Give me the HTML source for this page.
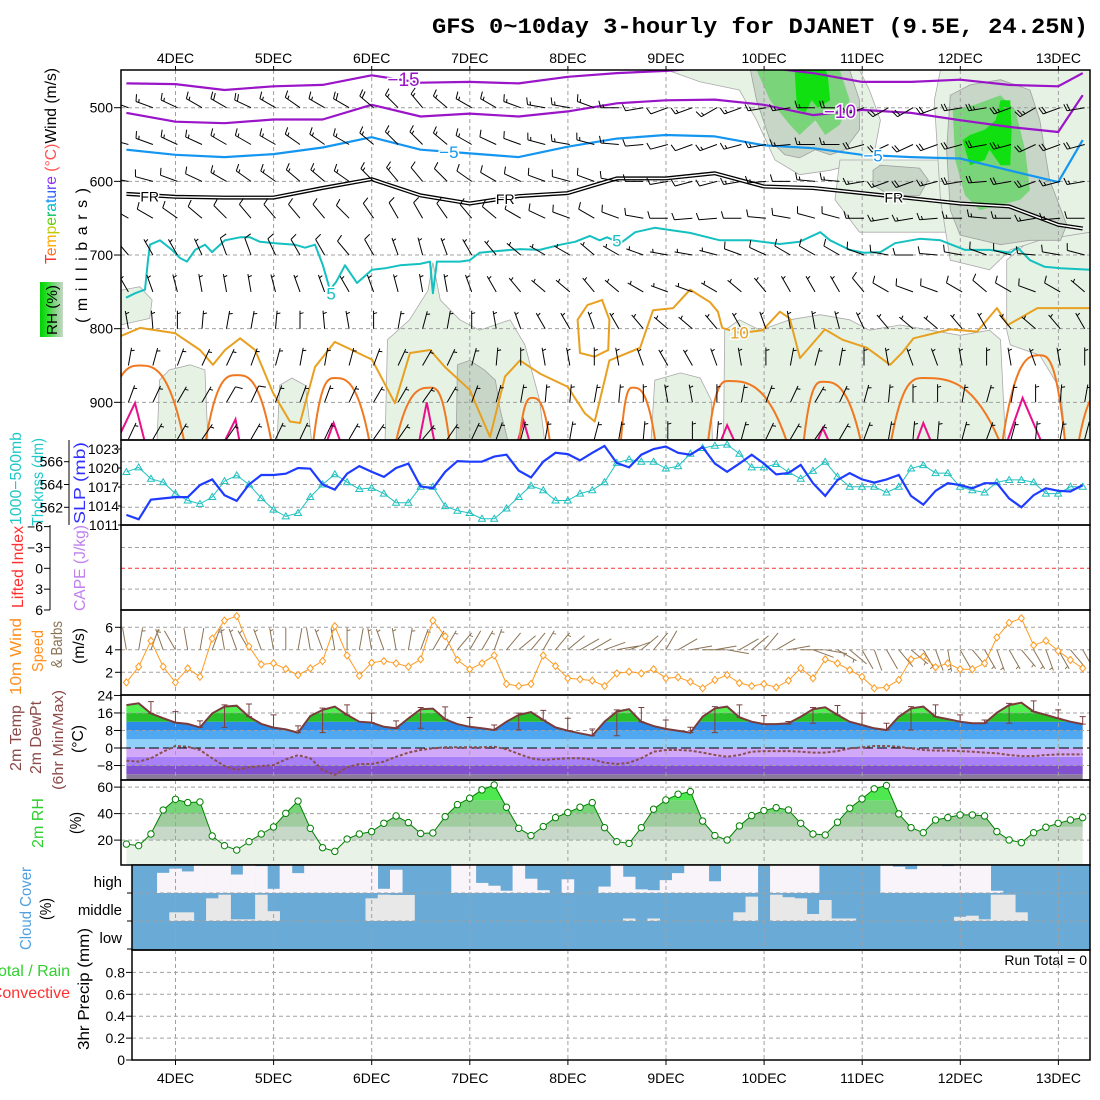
<!DOCTYPE html>
<html><head><meta charset="utf-8"><title>GFS meteogram DJANET</title>
<style>
html,body{margin:0;padding:0;background:#fff}
svg{display:block;font-family:"Liberation Sans",sans-serif}
</style></head>
<body>
<svg id="chart" width="1100" height="1100" viewBox="0 0 1100 1100" xmlns="http://www.w3.org/2000/svg">
<rect x="0" y="0" width="1100" height="1100" fill="#fff"/>
<defs>
<linearGradient id="rhgrad" x1="0" x2="1" y1="0" y2="0"><stop offset="0" stop-color="#00d000"/><stop offset="0.35" stop-color="#30e030"/><stop offset="0.6" stop-color="#78d478"/><stop offset="1" stop-color="#c8d6c8"/></linearGradient>
<clipPath id="clipMain"><rect x="121" y="70" width="969" height="370"/></clipPath>
<clipPath id="clipSlp"><rect x="121" y="440" width="969" height="85"/></clipPath>
<clipPath id="clipWind"><rect x="121" y="610" width="969" height="85"/></clipPath>
</defs>
<text x="432" y="33" font-family="Liberation Mono, monospace" font-weight="bold" font-size="22" textLength="656" lengthAdjust="spacingAndGlyphs">GFS 0~10day 3-hourly for DJANET (9.5E, 24.25N)</text>

<!-- main panel left labels -->
<text transform="translate(56,264) rotate(-90)" font-size="16" textLength="196" lengthAdjust="spacingAndGlyphs"><tspan fill="#ff3030">T</tspan><tspan fill="#ff7020">e</tspan><tspan fill="#ffa800">m</tspan><tspan fill="#c0c800">p</tspan><tspan fill="#60d000">e</tspan><tspan fill="#00c060">r</tspan><tspan fill="#00c0c0">a</tspan><tspan fill="#0090ff">t</tspan><tspan fill="#3060ff">u</tspan><tspan fill="#6040ff">r</tspan><tspan fill="#9030ff">e</tspan><tspan fill="#ff5050"> (°C)</tspan><tspan fill="#000">Wind (m/s)</tspan></text>
<rect x="40" y="282" width="23" height="55" fill="url(#rhgrad)"/>
<text transform="translate(57,335) rotate(-90)" font-size="15" textLength="50" lengthAdjust="spacingAndGlyphs">RH (%)</text>
<text transform="translate(87,323) rotate(-90)" font-size="16" textLength="135" lengthAdjust="spacing">(millibars)</text>

<!-- SLP panel labels -->
<text transform="translate(21,525) rotate(-90)" font-size="16" fill="#20c8c8" textLength="93" lengthAdjust="spacingAndGlyphs">1000−500mb</text>
<text transform="translate(43,526) rotate(-90)" font-size="16" fill="#20c8c8" textLength="88" lengthAdjust="spacingAndGlyphs">Thcknss (dm)</text>
<text transform="translate(85,524) rotate(-90)" font-size="16" fill="#3030ff" textLength="82" lengthAdjust="spacingAndGlyphs">SLP (mb)</text>
<line x1="69" y1="440" x2="69" y2="525" stroke="#000" stroke-width="1"/>

<!-- CAPE panel labels -->
<text transform="translate(23,608) rotate(-90)" font-size="16" fill="#ff3030" textLength="82" lengthAdjust="spacingAndGlyphs">Lifted Index</text>
<text transform="translate(85,611) rotate(-90)" font-size="16" fill="#c080f0" textLength="86" lengthAdjust="spacingAndGlyphs">CAPE (J/kg)</text>
<line x1="50" y1="525" x2="50" y2="610" stroke="#000" stroke-width="1"/>

<!-- wind panel labels -->
<text transform="translate(21,695) rotate(-90)" font-size="16" fill="#ff9020" textLength="77" lengthAdjust="spacingAndGlyphs">10m Wind</text>
<text transform="translate(43,672) rotate(-90)" font-size="16" fill="#ff9020" textLength="42" lengthAdjust="spacingAndGlyphs">Speed</text>
<text transform="translate(62,668) rotate(-90)" font-size="16" fill="#8b7355" textLength="47" lengthAdjust="spacingAndGlyphs">&amp; Barbs</text>
<text transform="translate(84,664) rotate(-90)" font-size="16" textLength="36" lengthAdjust="spacingAndGlyphs">(m/s)</text>

<!-- temp panel labels -->
<text transform="translate(21,771) rotate(-90)" font-size="16" fill="#8b4a4a" textLength="66" lengthAdjust="spacingAndGlyphs">2m Temp</text>
<text transform="translate(41,774) rotate(-90)" font-size="16" fill="#8b4a4a" textLength="73" lengthAdjust="spacingAndGlyphs">2m DewPt</text>
<text transform="translate(63,790) rotate(-90)" font-size="15" fill="#8b4a4a" textLength="100" lengthAdjust="spacingAndGlyphs">(6hr Min/Max)</text>
<text transform="translate(83,753) rotate(-90)" font-size="16" textLength="28" lengthAdjust="spacingAndGlyphs">(°C)</text>

<!-- RH panel labels -->
<text transform="translate(43,848) rotate(-90)" font-size="16" fill="#30d030" textLength="50" lengthAdjust="spacingAndGlyphs">2m RH</text>
<text transform="translate(81,834) rotate(-90)" font-size="16" textLength="22" lengthAdjust="spacingAndGlyphs">(%)</text>

<!-- cloud panel labels -->
<text transform="translate(31,950) rotate(-90)" font-size="16" fill="#50a0e0" textLength="83" lengthAdjust="spacingAndGlyphs">Cloud Cover</text>
<text transform="translate(51,920) rotate(-90)" font-size="16" textLength="22" lengthAdjust="spacingAndGlyphs">(%)</text>
<text x="122" y="887" font-size="15" text-anchor="end">high</text>
<text x="122" y="915" font-size="15" text-anchor="end">middle</text>
<text x="122" y="943" font-size="15" text-anchor="end">low</text>

<!-- precip labels -->
<text x="70" y="976" font-size="16" fill="#30d030" text-anchor="end">Total / Rain</text>
<text x="70" y="998" font-size="16" fill="#ff3030" text-anchor="end">Convective</text>
<text transform="translate(89,1050) rotate(-90)" font-size="16" textLength="122" lengthAdjust="spacingAndGlyphs">3hr Precip (mm)</text>
<text x="1087" y="965" font-size="14" text-anchor="end">Run Total = 0</text>
</svg>

<script>
// ---------- DATA ----------
const dayLabels=['4DEC','5DEC','6DEC','7DEC','8DEC','9DEC','10DEC','11DEC','12DEC','13DEC'];
const pressureTicks=[500,600,700,800,900];
const contourT=[0,4,8,12,16,20,24,28,32,36,40,44,48,52,56,60,64,68,72,76,78];
const isoM15=[467,468,476,471,469,456,466,465,467,458,453,450,445,445,453,465,465,462,469,471,453];
const isoM10=[507,519,521,516,516,496,512,508,512,505,494,490,489,496,510,503,507,517,526,533,483];
const isoM5=[557,564,567,563,554,540,557,562,567,553,542,537,539,551,555,564,567,569,585,601,544];
const isoFR=[617,621,622,622,609,597,619,630,620,616,596,596,589,607,609,616,623,630,634,659,664];
const iso5T=[-0.03,0.7,1.52,1.76,1.92,2.74,3.72,4.37,4.94,5.6,6.41,6.98,8.04,9.27,10.08,10.9,12.12,13.75,14.57,15.38,16.03,16.6,17.09,17.83,18.81,20.03,21.09,22.32,23.95,24.76,25.0,25.33,27.2,28.0,28.8,30.06,32.1,33.7,35.4,36.6,37.8,38.6,39.2,40.3,41.5,43.1,43.9,45.97,48.4,50.9,53.3,54.9,56.6,57.4,59.0,60.2,61.5,62.7,64.7,66.4,68.4,70.4,72.1,72.7,73.7,74.9,76.2,78.6];
const iso5P=[758,752,747,707,686,680,693,704,709,693,686,696,680,676,676,682,684,686,690,686,714,747,737,714,738,720,718,714,712,709,752,709,709,707,697,695,692,693,686,682,674,680,676,684,669,663,665,670,680,680,685,682,669,680,693,697,696,684,678,680,693,693,697,690,707,716,718,720];
const iso10T=[-0.44,1.11,3.96,6.0,7.06,8.04,9.27,10.5,11.96,13.34,14.16,15.38,17.0,20.03,21.9,23.13,24.76,25.98,28.0,29.66,30.88,32.1,33.73,36.0,37.4,38.2,39.4,41.9,42.95,44.6,45.98,47.6,48.25,48.6,50.05,51.9,53.3,54.1,54.94,56.97,58.4,60.4,62.3,63.3,64.2,67.2,69.4,71.0,71.9,74.3,78.6];
const iso10P=[810,799,806,829,849,829,813,829,887,926,928,852,818,842,901,833,829,852,883,947,865,843,861,879,915,926,843,826,775,772,747,764,777,799,806,802,777,786,840,801,815,826,849,832,813,801,804,772,795,772,772];
const iso10LoopT=[37.0,36.8,37.6,38.8,39.4,39.3,38.2];
const iso10LoopP=[833,788,768,761,788,829,838];
const iso15Start=[-2,6.4,15.2,21.9,32.0,40.3,47.4,55.2,62.3,71.4,77.6];
const iso15PeakT=[1.1,9.0,17.0,24.8,33.1,41.3,49.1,56.8,65.0,74.5,80];
const iso15PeakP=[850,863,867,880,894,880,871,872,867,836,880];
const iso15End=[4.8,11.9,19.9,26.4,34.6,43.2,54.0,60.0,71.4,76.6,82];
const iso20Start=[-1,7.8,16.2,23.8,31.8,48.3,56.2,64.3,71.7];
const iso20PeakT=[0.7,8.9,16.9,24.5,32.4,49.0,56.8,65.0,73.1];
const iso20PeakP=[901,923,928,900,925,931,935,928,894];
const iso20End=[1.6,9.3,17.6,25.2,33.0,49.8,57.5,65.8,74.8];
// RH shading regions, vertices as [time index, pressure]
const rhLight=[
 [[-0.5,748],[1.1,743],[2.1,761],[1.9,786],[-0.5,795]],
 [[2.5,951],[2.7,870],[3.5,856],[5.2,849],[6.4,856],[6.65,951]],
 [[12.3,951],[12.5,877],[13.5,867],[14.6,877],[15.1,951]],
 [[21.1,951],[21.3,815],[23.1,788],[24.6,748],[25.0,710],[25.6,761],[27.2,788],[28.8,802],[31.3,788],[32.5,822],[33.7,897],[34.1,951]],
 [[42.8,951],[43.1,870],[45.2,860],[46.8,867],[47.7,897],[47.8,951]],
 [[48.7,951],[48.8,802],[50,788],[51.7,802],[54.1,788],[56.6,781],[59,788],[60.6,802],[63.1,795],[65.6,802],[68,809],[70.4,802],[71.3,815],[71.7,951]],
 [[71.8,802],[71.8,707],[73.7,680],[78.6,669],[78.6,951],[76.6,951],[76.2,883],[74.5,836],[72.1,822]],
 [[44.1,449],[46.8,465],[50.0,476],[51.4,517],[52.9,571],[54.9,591],[57.4,585],[59.0,578],[60.9,571],[61.5,517],[60.6,476],[59.8,449]],
 [[58.2,571],[57.8,625],[59.8,669],[68.0,669],[68.0,571]],
 [[66.4,449],[65.9,490],[66.4,625],[67.2,707],[70.4,720],[72.1,693],[74.5,680],[78.6,669],[78.6,449]]
];
const rhGray=[
 [[26.9,951],[27.0,849],[28.0,843],[29.2,856],[30.1,870],[30.5,911],[31.1,951]],
 [[50.9,449],[51.4,490],[52.5,544],[53.7,564],[54.9,568],[56.2,557],[57.4,564],[58.6,557],[59.8,530],[59.8,490],[59.0,449]],
 [[60.9,585],[61.5,578],[64.7,582],[65.4,598],[64.7,619],[62.3,619],[60.9,605]],
 [[67.2,483],[66.9,557],[67.2,639],[68.0,673],[71.3,686],[73.7,680],[76.2,680],[76.7,659],[75.3,598],[74.5,517],[73.7,476],[71.3,462],[68.8,469]]
];
const rhGreen=[
 [[51.4,449],[52.5,490],[54.1,523],[54.9,537],[56.2,517],[57.0,537],[58.2,523],[59.0,490],[58.2,449]],
 [[67.4,503],[67.6,571],[68.4,619],[69.6,639],[71.3,632],[72.9,625],[73.7,612],[73.3,557],[72.5,503],[71.3,483],[69.2,496]]
];
const rhBright=[
 [[54.5,449],[54.7,503],[55.4,506],[55.9,490],[56.4,500],[57.4,490],[57.2,455],[57.0,449]],
 [[68.2,544],[68.8,578],[70.0,571],[70.4,557],[71.3,578],[72.1,578],[72.2,530],[72.1,490],[71.3,490],[70.9,517],[70.0,530],[68.8,537]]
];
// upper-air winds every 6 h (time index 0,2,...,78)
const barbLevels=[500,550,600,650,700,750,800,850,900,950];
const barbDir=[
 [290,290,295,300,300,295,300,305,300,300,310,315,320,310,300,300,290,280,280,290,270,260,250,250,240,250,260,260,270,270,250,240,240,250,260,260,250,240,250,260],
 [285,290,295,295,300,300,300,305,305,300,310,315,315,310,300,295,290,285,280,285,275,265,255,250,250,255,260,265,270,270,255,245,245,250,255,260,255,245,250,255],
 [280,285,290,295,300,305,305,310,310,305,315,320,320,315,305,300,295,290,285,290,280,270,260,255,255,260,265,270,275,275,260,250,250,255,260,265,260,250,255,260],
 [300,300,305,310,315,320,320,320,320,315,325,330,330,325,320,310,300,295,290,300,290,280,270,265,265,270,275,280,285,285,270,260,260,265,270,275,270,260,265,270],
 [320,330,330,335,340,340,335,330,330,320,330,340,345,340,330,320,310,300,300,310,300,290,280,280,285,290,295,300,300,300,290,280,270,275,280,290,285,275,280,285],
 [330,340,345,350,350,350,345,340,340,330,340,345,350,350,340,330,320,310,310,320,310,300,290,290,300,310,320,330,330,330,320,300,290,290,300,310,300,290,300,310],
 [350,355,0,5,10,10,5,0,355,350,0,10,15,10,0,350,340,330,330,340,330,320,310,310,320,330,340,350,350,345,335,320,310,310,320,330,320,310,320,330],
 [10,15,20,25,25,20,15,10,10,15,20,25,30,25,15,5,0,350,350,0,350,340,330,330,340,350,0,10,15,10,0,350,340,340,350,0,350,340,350,0],
 [20,25,30,30,30,25,20,20,20,25,30,30,35,30,20,15,10,5,5,10,5,0,350,350,0,10,20,25,30,25,15,5,0,0,10,15,10,0,5,10],
 [25,30,30,35,35,30,25,25,25,30,35,35,40,35,25,20,15,10,10,15,10,5,0,0,5,15,25,30,35,30,20,10,5,5,15,20,15,5,10,15]
];
const barbSpd=[
 [15,15,15,16,18,18,16,16,17,18,18,17,16,15,15,14,14,15,16,16,15,12,12,14,15,16,16,15,16,18,20,22,22,20,22,24,25,24,22,20],
 [12,13,14,15,16,16,15,15,16,16,16,15,14,13,13,12,12,13,14,14,13,11,11,12,14,15,15,14,15,17,19,20,21,20,21,22,23,22,20,18],
 [10,10,11,12,13,14,13,13,14,14,14,13,12,11,11,10,10,11,12,12,11,10,10,11,12,13,13,12,13,15,16,17,18,17,18,19,20,19,17,15],
 [8,8,9,10,10,11,10,10,11,11,11,10,9,8,8,8,8,9,10,10,9,8,8,9,10,11,11,10,11,12,13,14,14,13,14,15,15,14,13,12],
 [6,6,7,7,8,8,8,8,8,8,8,7,7,6,6,6,6,7,7,7,7,6,6,7,7,8,8,8,8,9,10,10,10,10,10,11,11,10,10,9],
 [5,5,6,6,7,7,6,6,6,6,6,6,6,5,5,5,5,6,6,6,6,5,5,6,6,6,6,7,7,7,8,8,8,8,8,9,9,8,8,7],
 [5,5,5,6,6,6,5,5,5,5,5,5,5,4,4,4,5,5,5,5,5,4,4,5,5,5,5,6,6,6,6,6,6,6,6,7,7,6,6,6],
 [6,6,6,6,7,7,6,6,6,6,6,6,6,5,5,5,5,5,5,5,5,5,5,5,5,5,6,6,6,6,6,6,6,6,6,6,6,6,6,6],
 [6,7,7,7,8,8,7,7,7,7,7,7,7,6,6,6,6,6,6,6,6,5,5,5,5,6,6,7,7,7,7,7,6,6,6,6,6,6,6,6],
 [5,6,6,6,7,7,6,6,6,6,6,6,6,5,5,5,5,5,5,5,5,4,4,4,4,5,5,6,6,6,6,6,5,5,5,5,5,5,5,5]
];
// 3-hourly surface series, time index 0..78 (3DEC 12Z .. 13DEC 06Z)
const slp=[1012.6,1011.9,1015,1015.2,1015.4,1015.4,1017.3,1018.2,1015.7,1014.8,1017.4,1018.9,1018.9,1019.1,1020,1019.9,1017.4,1016.6,1019.1,1020.3,1019.4,1018.6,1020,
 1020.7,1017.1,1016.8,1019.4,1021.1,1021,1021,1021.8,1022.1,1019.6,1018.5,1021,1022.4,1022.2,1021.2,1022.4,1023.5,1020.8,1020.1,1022.1,1023,1023.4,1022.4,1022.1,1023.3,1020.7,1019.4,1020.7,1022.1,1020.7,1019,1019.2,1020.5,1017.6,1015.6,1018.1,1019.2,1018.2,1017.7,1018.2,1018.9,1015.6,1014.2,1016.4,1017.6,1017.3,1016.8,1017.6,1017.6,1015.2,1013.8,1015.7,1016.8,1016.4,1016.3,1017.3];
const thickness=[565.1,565.5,564.5,564.2,563.2,562.6,562.3,562.9,564.3,564.8,564,562.8,561.8,561.2,561.5,562.9,564,564.9,564.2,563.6,563.7,563.2,562.4,
 562.4,563.8,563.8,562.1,561.7,561.5,561,561,561.9,562.9,563.9,563.5,562.6,562.6,563.2,563.5,564.2,565.9,566.2,566,566,565.4,565.6,566.7,567.2,567.4,567.5,566.7,565.5,565.5,565.8,565.1,564.5,565.2,566,564.7,563.8,563.8,563.8,563.3,563.8,565.4,565.7,565,565,563.8,563.5,563.3,564.2,564.4,564.4,564.2,563.2,563.2,563.8,563.8];
const windSpeed=[1.1,2.5,4.8,2.5,1.1,2.35,1.6,5,6.6,7,4.3,2.7,2.8,2.3,1.76,2.35,3,6.1,3.5,1.7,2.85,3,2.8,
 2.5,3.15,6.6,5.2,3.1,2.27,2.8,3.5,0.96,0.78,0.96,3.5,2.56,1.47,1.38,1.26,0.78,1.9,2.05,1.9,2.27,1.47,1.56,1.16,0.58,1.32,1.76,1.05,0.78,0.96,0.66,1.26,2.36,1.47,3.15,2.8,2.2,1.6,0.58,0.66,1.32,3.15,3.4,2.45,2.8,2.27,2.27,2.8,5.1,6.4,6.8,4.4,4.8,3.9,3.1,2.36];
const windDir=[350,10,20,340,330,350,10,20,350,340,330,340,350,0,10,350,340,350,0,10,350,340,350,
 10,20,30,30,40,30,30,20,40,50,40,30,
 40,50,60,60,70,80,70,50,40,30,60,80,90,80,
 100,60,50,40,60,80,90,110,100,120,130,150,
 160,150,140,130,150,160,170,150,140,150,160,150,140,150,160,150,140,150];
const temp2m=[19.6,20.4,15.8,13.6,11.6,11,9.4,15.8,18.9,19.3,14.3,11,9.3,8.5,7,14.6,17.4,18.9,15.1,12,11.6,9.7,9,
 13.5,17.7,18,13.1,10.9,9.7,9,8.2,12,15.1,16.4,12.8,9.4,7.9,6.7,5.6,12,16.6,17.7,12,10,8.7,7.9,7,14.3,18.1,18.9,14,12,10.9,10.9,11.3,14.3,17.7,18.6,15.1,12,10.5,9,8.2,14.3,18.1,18.9,14.3,13.2,12,11.3,11.3,16.1,19.6,20.7,16.6,15.1,13.5,12,10.9];
const dew2m=[-5.8,-6.2,-4.7,-1.7,0.9,0.6,-0.9,-4.7,-8.2,-10,-8.8,-8.2,-7.8,-5.2,-3.3,-4.7,-10,-12.3,-8.8,-7.3,-7.3,-6.2,-4,
 -2.1,-0.9,-0.15,0.3,0.3,0.3,0.3,0.6,-0.6,-2.7,-4.7,-5.5,-5,-4.7,-4.7,-5.2,-6.7,-7.3,-6.7,-4.7,-1.7,-0.9,-0.9,-1.2,-2.1,-3.2,-4,-3.2,-1.7,-1.4,-1.4,-1.4,-1.7,-2.1,-2.1,-1.4,-0.2,0.3,0.9,0.9,0.6,-0.2,-0.9,-1.2,-1.2,-1.4,-1.7,-2.1,-2.4,-3.2,-3.7,-3.7,-3.2,-2.9,-2.9,-2.9];
const rh2m=[17,15.8,24.6,42.7,50.8,48.3,48.8,23.1,15.8,12.5,18.8,24.6,29.9,40.2,49.5,28.9,14.3,11.5,20.8,24.6,26.4,32.7,38.2,
 33.2,25,25.4,37.7,46.8,51.6,57.9,61.6,44.8,28.9,23.4,30.2,37,40.8,44.8,48.3,29.4,18.8,17.5,29.4,43.3,50.3,54.6,56.6,34.4,23.4,20.1,30.7,38.5,42.3,44.5,42.8,32.7,24.6,23.9,33.5,44.1,51.1,58.7,61.2,39.8,29.4,25.6,35.2,37,39,39,38.2,26.4,20.1,18.1,25.6,29.7,32.7,35.2,37];
// cloud cover (%) for columns time index 1..78
const cloudHigh=[0,0,72,87,77,100,100,100,66,100,96,15,100,71,100,100,100,100,100,100,15,83,0,0,0,0,100,100,36,26,8,100,51,10,0,49,0,0,23,100,58,13,10,46,71,100,100,42,100,100,100,0,100,100,100,100,0,0,0,0,0,100,94,85,100,100,96,100,100,100,8,0,0,0,0,0,0,0];
const cloudMid=[0,0,0,31,31,0,81,94,6,6,94,35,0,0,0,0,0,0,0,81,94,93,93,0,0,0,0,0,0,0,0,0,0,0,0,0,0,0,0,0,9,0,9,0,0,0,0,0,0,31,87,0,94,85,81,25,75,9,9,0,0,0,0,0,0,0,0,15,19,6,94,94,31,0,0,0,0,0];
const cloudLow=[0,0,0,0,0,0,0,0,0,0,0,0,0,0,0,0,0,0,0,0,0,0,0,0,0,0,0,0,0,0,0,0,0,0,0,0,0,0,0,0,0,0,0,0,0,0,0,0,0,0,0,0,0,0,0,0,0,0,0,0,0,0,0,0,0,0,0,0,0,0,0,0,0,0,0,0,0,0];
const precip3h=[0,0,0,0,0,0,0,0,0,0,0,0,0,0,0,0,0,0,0,0,0,0,0,0,0,0,0,0,0,0,0,0,0,0,0,0,0,0,0,0,0,0,0,0,0,0,0,0,0,0,0,0,0,0,0,0,0,0,0,0,0,0,0,0,0,0,0,0,0,0,0,0,0,0,0,0,0,0,0];
const slpTicks=[1011,1014,1017,1020,1023];
const thkTicks=[562,564,566];
const liTicks=[-6,-3,0,3,6];
const windTicks=[2,4,6];
const tempTicks=[24,16,8,0,-8];
const rhTicks=[20,40,60];
const precipTicks=[0,0.2,0.4,0.6,0.8];

// ---------- SCALES ----------
const NS='http://www.w3.org/2000/svg';
const svg=document.getElementById('chart');
const X0=126.4, DX=12.26, DAY0=175.5, DAYW=98.1;
function xt(i){return X0+i*DX;}
function pY(p){return 107.7+(p-500)*0.7366;}
function slpY(v){return 525-(v-1011)*6.33;}
function thkY(v){return 507.3-(v-562)*11.4;}
function liY(v){return 568.3+v*6.95;}
function wY(v){return 694.8-v*11.25;}
function tY(v){return 748-v*2.19;}
function rY(v){return 866.6-v*1.325;}
function prY(v){return 1060-v*109.5;}
function mk(tag,attrs,parent){const e=document.createElementNS(NS,tag);for(const k in attrs)e.setAttribute(k,attrs[k]);(parent||svg).appendChild(e);return e;}
function pts(arr){return arr.map(q=>q[0].toFixed(1)+','+q[1].toFixed(1)).join(' ');}
function interp(T,P,t){for(let k=0;k<T.length-1;k++){if(t>=T[k]&&t<=T[k+1]){const f=(t-T[k])/(T[k+1]-T[k]);return P[k]+f*(P[k+1]-P[k]);}}return P[P.length-1];}
const GRID='#a0a0a0';

function vgrid(g,y1,y2){
  for(let d=0;d<dayLabels.length;d++){
    const x=DAY0+d*DAYW;
    const l=mk('line',{x1:x,y1:y1,x2:x,y2:y2,stroke:GRID,'stroke-width':1,'stroke-dasharray':'4,3'},g);
    
    
  }
}
function hgrid(g,y,x1,color,dash){
  const l=mk('line',{x1:x1,y1:y,x2:1090,y2:y,stroke:color||GRID,'stroke-width':1,'stroke-dasharray':dash||'4,3'},g);
  
  
}
function ytick(g,y,label,xr,tickX1,tickX2,name){
  const t=mk('text',{x:xr,y:y+5,'font-size':14,'text-anchor':'end'},g);
  t.textContent=label;
  
  
  const l=mk('line',{x1:tickX1,y1:y,x2:tickX2,y2:y,stroke:'#000','stroke-width':1},g);
  
  
}
function frame(g,x,y,w,h,name){
  const r=mk('rect',{x:x,y:y,width:w,height:h,fill:'none',stroke:'#000','stroke-width':1.5},g);
  
  
}
function barb(g,x,y,dir,spd,len,color,name){
  const r=dir*Math.PI/180, dx=Math.sin(r), dy=-Math.cos(r);
  const tx=x+dx*len, ty=y+dy*len, px=-dy, py=dx;
  let d='M'+x.toFixed(1)+','+y.toFixed(1)+'L'+tx.toFixed(1)+','+ty.toFixed(1);
  let s=Math.round(spd/5)*5, pos=0;
  while(s>=10){const bx=tx-dx*pos,by=ty-dy*pos;d+='M'+bx.toFixed(1)+','+by.toFixed(1)+'l'+(px*7+dx*2).toFixed(1)+','+(py*7+dy*2).toFixed(1);pos+=3;s-=10;}
  if(s>=5){if(pos===0)pos=3;const bx=tx-dx*pos,by=ty-dy*pos;d+='M'+bx.toFixed(1)+','+by.toFixed(1)+'l'+(px*3.5+dx).toFixed(1)+','+(py*3.5+dy).toFixed(1);}
  const el=mk('path',{d:d,stroke:color,'stroke-width':1,fill:'none'},g);
  
  
}

// ---------- DAY LABELS ----------
for(let d=0;d<dayLabels.length;d++){
  const x=DAY0+d*DAYW;
  const t1=mk('text',{x:x,y:63,'font-size':14,'text-anchor':'middle'});
  t1.textContent=dayLabels[d];
  
  
  const t2=mk('text',{x:x,y:1083,'font-size':14,'text-anchor':'middle'});
  t2.textContent=dayLabels[d];
  
  
  const tk=mk('line',{x1:x,y1:66,x2:x,y2:70,stroke:'#000','stroke-width':1});
  
  
  const tb=mk('line',{x1:x,y1:1060,x2:x,y2:1065,stroke:'#000','stroke-width':1});
  
  
}

// ---------- MAIN PANEL ----------
const gMain=mk('g',{'clip-path':'url(#clipMain)'});


function rhFill(list,color,stroke,name){
  list.forEach(poly=>{
    const pg=mk('polygon',{points:pts(poly.map(q=>[xt(q[0]),pY(q[1])])),fill:color,stroke:stroke,'stroke-width':0.8},gMain);
    
    
  });
}
rhFill(rhLight,'#e6f2e4','#aaaaaa','rh-region-light');
rhFill(rhGray,'#c8d6c8','#a0a0a0','rh-region-gray');
rhFill(rhGreen,'#7ad47a','none','rh-region-green');
rhFill(rhBright,'#10e010','none','rh-region-bright');
vgrid(gMain,70,440);
pressureTicks.forEach(p=>hgrid(gMain,pY(p),121));
function contour(T,P,color,w,name){
  const pl=mk('polyline',{points:pts(T.map((t,k)=>[xt(t),pY(P[k])])),fill:'none',stroke:color,'stroke-width':w,'stroke-linejoin':'round'},gMain);
  
  
  return pl;
}
function arches(S,PT,PP,E,color,w,round,name){
  for(let k=0;k<S.length;k++){
    const xs=xt(S[k]),xp=xt(PT[k]),xe=xt(E[k]),yb=pY(960),yp=pY(PP[k]);
    let d;
    if(round){d='M'+xs+','+yb+'C'+(xs+(xp-xs)*0.35)+','+yp+' '+(xp-(xp-xs)*0.3)+','+yp+' '+xp+','+yp+'C'+(xp+(xe-xp)*0.3)+','+yp+' '+(xe-(xe-xp)*0.35)+','+yp+' '+xe+','+yb;}
    else{d='M'+xs+','+yb+'L'+xp+','+yp+'L'+xe+','+yb;}
    const a=mk('path',{d:d,fill:'none',stroke:color,'stroke-width':w},gMain);
    
    
  }
}
arches(iso20Start,iso20PeakT,iso20PeakP,iso20End,'#e8108a',2,false,'isotherm-20c');
arches(iso15Start,iso15PeakT,iso15PeakP,iso15End,'#f07820',2,true,'isotherm-15c');
contour(iso10T,iso10P,'#e8a020',2,'isotherm-10c');
const loop=mk('polygon',{points:pts(iso10LoopT.map((t,k)=>[xt(t),pY(iso10LoopP[k])])),fill:'none',stroke:'#e8a020','stroke-width':2},gMain);


contour(iso5T,iso5P,'#14c0c0',2,'isotherm-5c');
contour(contourT,isoFR,'#000',4,'freezing-level-outer');
contour(contourT,isoFR,'#fff',1.4,'freezing-level-inner');
contour(contourT,isoM5,'#1496f0',2.2,'isotherm-minus5c');
contour(contourT,isoM10,'#9a14c8',2.2,'isotherm-minus10c');
contour(contourT,isoM15,'#9a14c8',2.2,'isotherm-minus15c');
// upper-air barbs
for(let L=0;L<barbLevels.length;L++){
  for(let c=0;c<barbDir[L].length;c++){
    barb(gMain,xt(c*2)+2,pY(barbLevels[L]),barbDir[L][c],barbSpd[L][c],18,'#000','upper-wind-barb');
  }
}
function clabel(txt,t,y,color,size,name){
  const e=mk('text',{x:xt(t),y:y+6,'font-size':size,fill:color,'text-anchor':'middle',stroke:'#fff','stroke-width':3,'paint-order':'stroke'},gMain);
  e.textContent=txt;
  
  
}
clabel('−15',22.6,pY(interp(contourT,isoM15,22.6)),'#9a14c8',19,'contour-label-minus15');
clabel('−10',58.2,pY(interp(contourT,isoM10,58.2)),'#9a14c8',19,'contour-label-minus10');
clabel('−5',26.3,pY(interp(contourT,isoM5,26.3)),'#1496f0',17,'contour-label-minus5');
clabel('−5',60.9,pY(interp(contourT,isoM5,60.9)),'#1496f0',17,'contour-label-minus5');
clabel('FR',1.9,pY(interp(contourT,isoFR,1.9)),'#000',14,'contour-label-fr');
clabel('FR',30.9,pY(interp(contourT,isoFR,30.9)),'#000',14,'contour-label-fr');
clabel('FR',62.6,pY(interp(contourT,isoFR,62.6)),'#000',14,'contour-label-fr');
clabel('5',16.7,pY(752),'#14c0c0',17,'contour-label-5');
clabel('5',40.0,pY(680),'#14c0c0',17,'contour-label-5');
clabel('10',50.0,pY(805),'#e8a020',17,'contour-label-10');
pressureTicks.forEach(p=>ytick(svg,pY(p),String(p),113,114,121,'pressure-tick'));
frame(svg,121,70,969,370,'upper-air-frame');

// ---------- SLP / THICKNESS ----------
const gS=mk('g',{'clip-path':'url(#clipSlp)'});


vgrid(gS,440,525);
thkTicks.forEach(v=>hgrid(gS,thkY(v),121));
const thkLine=mk('polyline',{points:pts(thickness.map((v,i)=>[xt(i),thkY(v)])),fill:'none',stroke:'#20c0c0','stroke-width':1},gS);


thickness.forEach((v,i)=>{
  const x=xt(i),y=thkY(v);
  const tr=mk('polygon',{points:[x,y-3.5,x-3.5,y+2.5,x+3.5,y+2.5].join(' '),fill:'none',stroke:'#20c0c0','stroke-width':1},gS);
  
  
});
const slpLine=mk('polyline',{points:pts(slp.map((v,i)=>[xt(i),slpY(v)])),fill:'none',stroke:'#1e3cff','stroke-width':2.2},gS);


slpTicks.forEach(v=>ytick(svg,slpY(v),String(v),119,118,121,'slp-tick'));
thkTicks.forEach(v=>ytick(svg,thkY(v),String(v),63,64,69,'thickness-tick'));
frame(svg,121,440,969,85,'slp-frame');

// ---------- CAPE / LI ----------
const gC=mk('g',{});


vgrid(gC,525,610);
hgrid(gC,liY(-3),121);
hgrid(gC,liY(3),121);
hgrid(gC,liY(0),121,'#ff3030');
liTicks.forEach(v=>ytick(svg,liY(v),v<0?'−'+Math.abs(v):String(v),43,44,50,'lifted-index-tick'));
frame(svg,121,525,969,85,'cape-frame');

// ---------- WIND ----------
const gW=mk('g',{'clip-path':'url(#clipWind)'});


vgrid(gW,610,695);
windTicks.forEach(v=>hgrid(gW,wY(v),121));
windDir.forEach((d,i)=>barb(gW,xt(i),wY(4),d,windSpeed[i],22,'#8b7355','surface-wind-barb'));
const wl=mk('polyline',{points:pts(windSpeed.map((v,i)=>[xt(i),wY(v)])),fill:'none',stroke:'#ff9a20','stroke-width':1},gW);


windSpeed.forEach((v,i)=>{
  const x=xt(i),y=wY(v);
  const dm=mk('polygon',{points:[x,y-3.5,x+3,y,x,y+3.5,x-3,y].join(' '),fill:'#fff',stroke:'#ff9a20','stroke-width':1},gW);
  
  
});
windTicks.forEach(v=>ytick(svg,wY(v),String(v),113,115,121,'wind-tick'));
frame(svg,121,610,969,85,'wind-frame');

// ---------- TEMPERATURE ----------
const tClip=mk('clipPath',{id:'clipTemp'});


const tcp=mk('polygon',{points:xt(0)+',780 '+pts(temp2m.map((v,i)=>[xt(i),tY(v)]))+' '+xt(78)+',780'},tClip);


const gT=mk('g',{});


const gTB=mk('g',{'clip-path':'url(#clipTemp)'},gT);


const bandEdges=[-20,-12,-8,-4,0,4,8,12,16,20,30];
const bandColors=['#8a7a9a','#8050d0','#a880f8','#d2a8f8','#90d0f8','#50a8f0','#2c8ce8','#28c028','#50f050','#f0f040'];
for(let b=0;b<bandColors.length;b++){
  const y1=Math.max(695,tY(bandEdges[b+1])),y2=Math.min(780,tY(bandEdges[b]));
  if(y2<=y1)continue;
  const r=mk('rect',{x:121,y:y1,width:969,height:y2-y1,fill:bandColors[b]},gTB);
  
  
}
vgrid(gT,695,780);
[16,8,-8].forEach(v=>hgrid(gT,tY(v),121));
hgrid(gT,tY(0),121,'#000','10,4');
for(let i=2;i<temp2m.length;i+=2){
  const lo=Math.min(temp2m[i-2],temp2m[i-1],temp2m[i]),hi=Math.max(temp2m[i-2],temp2m[i-1],temp2m[i])+0.8;
  const x=xt(i);
  const mm=mk('path',{d:'M'+x+','+tY(lo)+'V'+tY(hi)+'M'+(x-3)+','+tY(hi)+'h6M'+(x-3)+','+tY(lo)+'h6',stroke:'#7a4040','stroke-width':1,fill:'none'},gT);
  
  
}
const tl=mk('polyline',{points:pts(temp2m.map((v,i)=>[xt(i),tY(v)])),fill:'none',stroke:'#7a3c3c','stroke-width':2},gT);


const dl=mk('polyline',{points:pts(dew2m.map((v,i)=>[xt(i),tY(v)])),fill:'none',stroke:'#8a5050','stroke-width':2,'stroke-dasharray':'3,2'},gT);


tempTicks.forEach(v=>ytick(svg,tY(v),v<0?'−'+Math.abs(v):String(v),113,114,121,'temp-tick'));
frame(svg,121,695,969,85,'temp-frame');

// ---------- RH ----------
const rClip=mk('clipPath',{id:'clipRh'});


const rcp=mk('polygon',{points:xt(0)+',865 '+pts(rh2m.map((v,i)=>[xt(i),rY(v)]))+' '+xt(78)+',865'},rClip);


const gR=mk('g',{});


const gRB=mk('g',{'clip-path':'url(#clipRh)'},gR);


const rhEdges=[0,20,30,40,50,80];
const rhColors=['#e8f2e6','#c8d8c8','#a0cca0','#78d478','#50e850'];
for(let b=0;b<rhColors.length;b++){
  const y1=Math.max(780,rY(rhEdges[b+1])),y2=Math.min(865,rY(rhEdges[b]));
  const r=mk('rect',{x:121,y:y1,width:969,height:y2-y1,fill:rhColors[b]},gRB);
  
  
}
vgrid(gR,780,865);
rhTicks.forEach(v=>hgrid(gR,rY(v),121));
const rl=mk('polyline',{points:pts(rh2m.map((v,i)=>[xt(i),rY(v)])),fill:'none',stroke:'#008000','stroke-width':1},gR);


rh2m.forEach((v,i)=>{
  const c=mk('circle',{cx:xt(i),cy:rY(v),r:3.2,fill:'#fff',stroke:'#008000','stroke-width':1},gR);
  
  
});
rhTicks.forEach(v=>ytick(svg,rY(v),String(v),113,114,121,'rh-tick'));
frame(svg,121,780,969,85,'rh-frame');

// ---------- CLOUD ----------
const gCl=mk('g',{});


const cbg=mk('rect',{x:132,y:865,width:958,height:85,fill:'#6aaad6'},gCl);


const rows=[[cloudHigh,865,893,'#f8f4fa','high-cloud-bar'],[cloudMid,893,921,'#e8e8e8','middle-cloud-bar'],[cloudLow,921,950,'#e8e8e8','low-cloud-bar']];
rows.forEach(row=>{
  const arr=row[0],top=row[1],bot=row[2];
  arr.forEach((v,k)=>{
    if(v<=0)return;
    const i=k+1,h=(bot-top)*v/100;
    const r=mk('rect',{x:xt(i)-DX/2,y:bot-h,width:DX+0.3,height:h,fill:row[3]},gCl);
    
    
  });
});
vgrid(gCl,865,950);
hgrid(gCl,893,132);
hgrid(gCl,921,132);
[893,921,949].forEach(y=>{
  const l=mk('line',{x1:127,y1:y,x2:132,y2:y,stroke:'#000','stroke-width':1});
  
  
});
frame(svg,132,865,958,85,'cloud-frame');

// ---------- PRECIP ----------
const gP=mk('g',{});


vgrid(gP,950,1060);
precipTicks.slice(1).forEach(v=>hgrid(gP,prY(v),132));
precip3h.forEach((v,i)=>{
  if(v<=0)return;
  const r=mk('rect',{x:xt(i)-4,y:prY(v),width:8,height:1060-prY(v),fill:'#30d030'},gP);
  
  
});
precipTicks.forEach(v=>ytick(svg,prY(v),String(v),125,126,132,'precip-tick'));
frame(svg,132,950,958,110,'precip-frame');
</script>
</body></html>
